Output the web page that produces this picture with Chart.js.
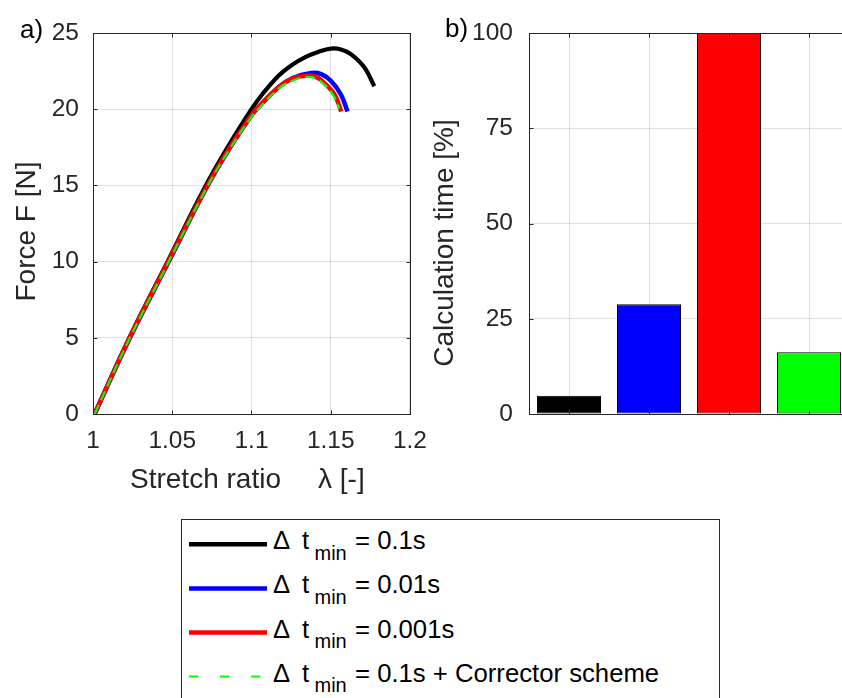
<!DOCTYPE html>
<html>
<head>
<meta charset="utf-8">
<script src="https://cdn.jsdelivr.net/npm/chart.js@4.4.1/dist/chart.umd.min.js"></script>
<style>
  html, body { margin: 0; padding: 0; width: 842px; height: 698px; overflow: hidden; background: #fff; }
  #forceCanvas { position: absolute; left: 0; top: 0; }
  #timeCanvas { position: absolute; left: 420px; top: 0; }
  #legend { position: absolute; left: 181px; top: 519px; }
</style>
</head>
<body>
<canvas id="forceCanvas" width="440" height="500"></canvas>
<canvas id="timeCanvas" width="460" height="500"></canvas>
<svg id="legend" width="560" height="190" xmlns="http://www.w3.org/2000/svg"></svg>

<script>
// ---- force vs. stretch ratio, one curve per minimum time step ----
const lambdaBlack = [1.001, 1.0231, 1.0475, 1.0702, 1.0858, 1.1, 1.1066, 1.1171, 1.1255, 1.1337, 1.142, 1.15, 1.1565, 1.1629, 1.1712, 1.1775];
const forceBlack  = [0, 5.05, 10.1, 14.8, 17.65, 20.0, 20.95, 22.2, 22.9, 23.4, 23.75, 23.98, 23.92, 23.6, 22.75, 21.5];

const lambdaBlue = [1.001, 1.0233, 1.0478, 1.0714, 1.086, 1.1, 1.1037, 1.1171, 1.126, 1.1377, 1.144, 1.1502, 1.1565, 1.1606];
const forceBlue  = [0, 5.0, 10.0, 14.82, 17.4, 19.6, 20.05, 21.45, 22.05, 22.37, 22.3, 21.85, 20.95, 19.85];

const lambdaRed = [1.001, 1.0231, 1.0475, 1.0712, 1.0858, 1.1, 1.1035, 1.1171, 1.1255, 1.1337, 1.14, 1.1462, 1.1525, 1.1566];
const forceRed  = [0, 5.0, 10.0, 14.8, 17.4, 19.6, 20.05, 21.45, 22.0, 22.2, 22.15, 21.7, 20.95, 19.85];

const lambdaGreen = [1.001, 1.0233, 1.0478, 1.0714, 1.086, 1.1, 1.1037, 1.1171, 1.1255, 1.1335, 1.14, 1.1462, 1.152, 1.1554];
const forceGreen  = [0, 5.0, 10.0, 14.78, 17.35, 19.5, 19.95, 21.35, 21.85, 22.1, 22.05, 21.6, 20.85, 20.05];

// ---- relative calculation time per run ----
const calcTime = [4.8, 28.8, 100, 16.2];

// ---- labels and colours shared by the curves, bars and legend ----
const runSteps = ['0.1s', '0.01s', '0.001s', '0.1s + Corrector scheme'];
const runColors = ['#000000', '#0000ff', '#ff0000', '#00ff00'];

const xTicks = [1, 1.05, 1.1, 1.15, 1.2];
const forceTicks = [0, 5, 10, 15, 20, 25];
const timeTicks = [0, 25, 50, 75, 100];

const FONT = '"Liberation Sans", Arial, Helvetica, sans-serif';
const AXIS = '#262626';
const GRID = 'rgba(38,38,38,0.15)';

function pts(xs, ys) { return xs.map((x, i) => ({ x: x, y: ys[i] })); }

// box round the plot area, with short inward ticks on every side
const framePlugin = {
  id: 'frame',
  afterDatasetsDraw(chart) {
    const { ctx, chartArea: a } = chart;
    const L = Math.round(a.left) + 0.5, R = Math.round(a.right) + 0.5;
    const T = Math.round(a.top) + 0.5, B = Math.round(a.bottom) + 0.5;
    const len = 4;
    ctx.save();
    ctx.strokeStyle = AXIS;
    ctx.lineWidth = 1;
    ctx.beginPath();
    chart.scales.x.ticks.forEach((t, i) => {
      const px = Math.round(chart.scales.x.getPixelForTick(i)) + 0.5;
      ctx.moveTo(px, B); ctx.lineTo(px, B - len);
      ctx.moveTo(px, T); ctx.lineTo(px, T + len);
    });
    chart.scales.y.ticks.forEach((t, i) => {
      const py = Math.round(chart.scales.y.getPixelForTick(i)) + 0.5;
      ctx.moveTo(L, py); ctx.lineTo(L + len, py);
      ctx.moveTo(R, py); ctx.lineTo(R - len, py);
    });
    ctx.stroke();
    ctx.strokeRect(L, T, R - L, B - T);
    ctx.restore();
  }
};

// panel letter and axis titles
const titlePlugin = {
  id: 'axisText',
  afterDraw(chart, args, opts) {
    const { ctx, chartArea: a } = chart;
    const midY = (a.top + a.bottom) / 2;
    ctx.save();
    ctx.textBaseline = 'alphabetic';
    ctx.fillStyle = '#000';
    ctx.font = '26px ' + FONT;
    ctx.textAlign = 'left';
    ctx.fillText(opts.panel, opts.panelX, opts.panelY);

    ctx.fillStyle = AXIS;
    ctx.font = '28px ' + FONT;
    (opts.xTitle || []).forEach(p => ctx.fillText(p.text, a.left + p.dx, a.bottom + p.dy));

    ctx.translate(a.left - opts.yTitleDx, midY + opts.yTitleDy);
    ctx.rotate(-Math.PI / 2);
    ctx.textAlign = 'center';
    ctx.fillText(opts.yTitle, 0, 0);
    ctx.restore();
  }
};

const tickFont = { family: FONT, size: 24.5 };

const forceChart = new Chart(document.getElementById('forceCanvas'), {
  type: 'line',
  data: {
    datasets: [
      { data: pts(lambdaBlack, forceBlack), borderColor: runColors[0], borderWidth: 4.2, order: 3 },
      { data: pts(lambdaBlue, forceBlue), borderColor: runColors[1], borderWidth: 4.5, order: 2 },
      { data: pts(lambdaRed, forceRed), borderColor: runColors[2], borderWidth: 4.5, order: 1 },
      { data: pts(lambdaGreen, forceGreen), borderColor: runColors[3], borderWidth: 2.2, borderDash: [10, 5], order: 0 }
    ]
  },
  options: {
    responsive: false,
    animation: false,
    devicePixelRatio: 1,
    layout: { padding: { top: 33, right: 27, left: 0, bottom: 0 } },
    elements: {
      point: { radius: 0 },
      line: { tension: 0.4, borderCapStyle: 'butt', borderJoinStyle: 'round' }
    },
    plugins: {
      legend: { display: false },
      tooltip: { enabled: false },
      axisText: {
        panel: 'a)', panelX: 20, panelY: 38,
        xTitle: [{ text: 'Stretch ratio', dx: 37, dy: 74 }, { text: 'λ [-]', dx: 225, dy: 74 }],
        yTitle: 'Force F [N]', yTitleDx: 58, yTitleDy: 8
      }
    },
    scales: {
      x: {
        type: 'linear', min: xTicks[0], max: xTicks[xTicks.length - 1],
        afterBuildTicks(s) { s.ticks = xTicks.map(v => ({ value: v })); },
        ticks: { color: AXIS, font: tickFont, padding: 13, maxRotation: 0, autoSkip: false,
                 callback: v => String(Number(v.toFixed(2))) },
        grid: { color: GRID, lineWidth: 1, drawTicks: false },
        border: { display: false },
        afterFit(s) { s.height = 86; }
      },
      y: {
        type: 'linear', min: forceTicks[0], max: forceTicks[forceTicks.length - 1],
        afterBuildTicks(s) { s.ticks = forceTicks.map(v => ({ value: v })); },
        ticks: { color: AXIS, font: tickFont, padding: 14 },
        grid: { color: GRID, lineWidth: 1, drawTicks: false },
        border: { display: false },
        afterFit(s) { s.width = 93; }
      }
    }
  },
  plugins: [framePlugin, titlePlugin]
});

const timeChart = new Chart(document.getElementById('timeCanvas'), {
  type: 'bar',
  data: {
    labels: runSteps,
    datasets: [{
      data: calcTime,
      backgroundColor: runColors,
      borderColor: '#000',
      borderWidth: 1,
      borderSkipped: false,
      barPercentage: 0.8,
      categoryPercentage: 1.0
    }]
  },
  options: {
    responsive: false,
    animation: false,
    devicePixelRatio: 1,
    layout: { padding: { top: 33, right: 31, left: 0, bottom: 0 } },
    plugins: {
      legend: { display: false },
      tooltip: { enabled: false },
      axisText: {
        panel: 'b)', panelX: 25, panelY: 37,
        yTitle: 'Calculation time [%]', yTitleDx: 76, yTitleDy: 19.5
      }
    },
    scales: {
      x: {
        offset: true,
        ticks: { display: false },
        grid: { offset: false, color: GRID, lineWidth: 1, drawTicks: false },
        border: { display: false },
        afterFit(s) { s.height = 86; }
      },
      y: {
        min: timeTicks[0], max: timeTicks[timeTicks.length - 1],
        afterBuildTicks(s) { s.ticks = timeTicks.map(v => ({ value: v })); },
        ticks: { color: AXIS, font: tickFont, padding: 16 },
        grid: { color: GRID, lineWidth: 1, drawTicks: false },
        border: { display: false },
        afterFit(s) { s.width = 109; }
      }
    }
  },
  plugins: [framePlugin, titlePlugin]
});

// legend below both panels, built from the curve datasets
(function buildLegend() {
  const NS = 'http://www.w3.org/2000/svg';
  const svg = document.getElementById('legend');
  const add = (tag, attrs, text) => {
    const el = document.createElementNS(NS, tag);
    Object.keys(attrs).forEach(k => el.setAttribute(k, attrs[k]));
    if (text !== undefined) el.textContent = text;
    svg.appendChild(el);
    return el;
  };
  add('rect', { x: 0.5, y: 0.5, width: 538, height: 300, fill: '#fff', stroke: AXIS, 'stroke-width': 1 });
  const rowH = 44.1, base0 = 30.3;
  forceChart.data.datasets.forEach((ds, i) => {
    const base = base0 + i * rowH;
    const dashed = ds.borderDash && ds.borderDash.length;
    add('line', {
      x1: 8, x2: 86, y1: base - 5, y2: base - 5,
      stroke: ds.borderColor, 'stroke-width': dashed ? 2 : 4.5,
      'stroke-dasharray': dashed ? '9.3 21.7' : 'none'
    });
    const txt = { fill: '#000', 'font-family': FONT, 'font-size': 25.7 };
    add('text', Object.assign({ x: 92, y: base }, txt), 'Δ');
    add('text', Object.assign({ x: 121, y: base }, txt), 't');
    add('text', Object.assign({ x: 133.5, y: base + 10.7 }, txt, { 'font-size': 20 }), 'min');
    add('text', Object.assign({ x: 174, y: base }, txt), '= ' + runSteps[i]);
  });
})();
</script>
</body>
</html>
